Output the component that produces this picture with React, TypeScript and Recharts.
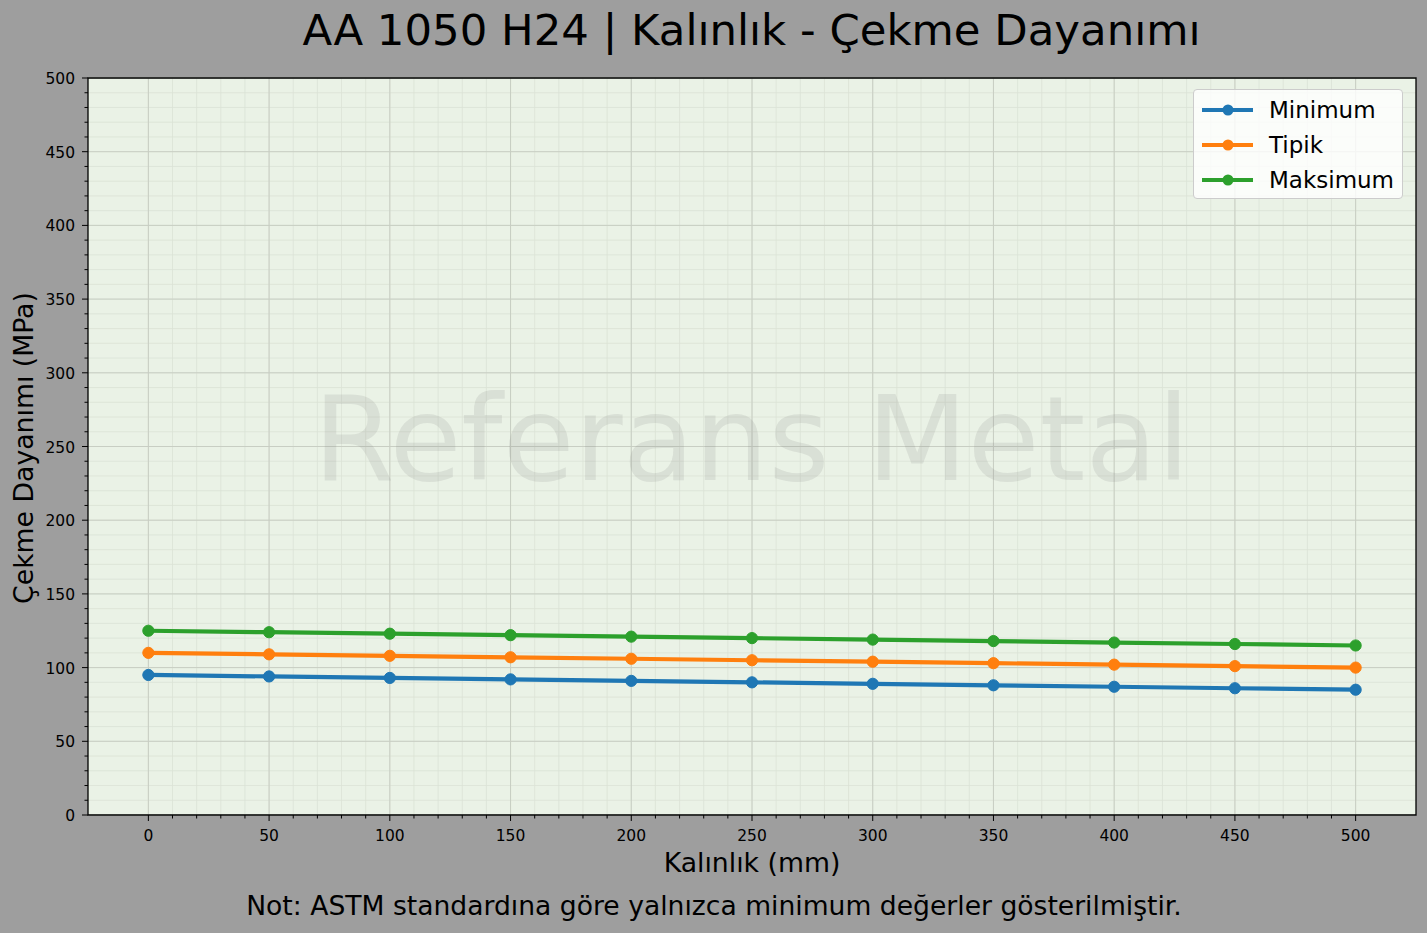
import React from 'react';
import {
  LineChart,
  Line,
  XAxis,
  YAxis,
  CartesianGrid,
  ReferenceArea,
  Legend,
} from 'recharts';

// thickness (mm) and tensile strength (MPa)
const THICKNESS = [0, 50, 100, 150, 200, 250, 300, 350, 400, 450, 500];
const MINIMUM = [95, 94, 93, 92, 91, 90, 89, 88, 87, 86, 85];
const TIPIK = [110, 109, 108, 107, 106, 105, 104, 103, 102, 101, 100];
const MAKSIMUM = [125, 124, 123, 122, 121, 120, 119, 118, 117, 116, 115];

const X_TICKS = [0, 50, 100, 150, 200, 250, 300, 350, 400, 450, 500];
const Y_TICKS = [0, 50, 100, 150, 200, 250, 300, 350, 400, 450, 500];
// minor ticks every 10
const X_MINOR = Array.from({ length: 51 }, (_, i) => i * 10);
const Y_MINOR = Array.from({ length: 51 }, (_, i) => i * 10);

const SERIES = [
  { key: 'min', name: 'Minimum', color: '#1f77b4', values: MINIMUM },
  { key: 'typ', name: 'Tipik', color: '#ff7f0e', values: TIPIK },
  { key: 'max', name: 'Maksimum', color: '#2ca02c', values: MAKSIMUM },
];

const data = THICKNESS.map((t, i) => {
  const row: Record<string, number> = { t };
  SERIES.forEach((s) => {
    row[s.key] = s.values[i];
  });
  return row;
});

const FONT = '"DejaVu Sans", sans-serif';
const W = 1427;
const H = 933;

const XTick = (props: any) => {
  const { x, y, payload } = props;
  const major = payload.value % 50 === 0;
  return (
    <g>
      <line x1={x} x2={x} y1={y} y2={y + (major ? 6 : 3.5)} stroke="#000" strokeWidth={1} />
      {major && (
        <text x={x} y={y + 26} textAnchor="middle" fontSize={15.5} fontFamily={FONT} fill="#000">
          {payload.value}
        </text>
      )}
    </g>
  );
};

const YTick = (props: any) => {
  const { x, y, payload } = props;
  const major = payload.value % 50 === 0;
  return (
    <g>
      <line x1={x - (major ? 6 : 3.5)} x2={x} y1={y} y2={y} stroke="#000" strokeWidth={1} />
      {major && (
        <text x={x - 13} y={y + 6} textAnchor="end" fontSize={15.5} fontFamily={FONT} fill="#000">
          {payload.value}
        </text>
      )}
    </g>
  );
};

// legend keeps the plotting order
const LegendBox = () => (
  <div
    style={{
      width: 210,
      height: 110,
      boxSizing: 'border-box',
      background: 'rgba(255,255,255,0.8)',
      border: '1px solid #cccccc',
      borderRadius: 4,
      fontFamily: FONT,
      fontSize: 23,
      color: '#000',
      paddingTop: 2,
    }}
  >
    {SERIES.map((s) => (
      <div key={s.key} style={{ display: 'flex', alignItems: 'center', height: 35 }}>
        <svg width={75} height={20} style={{ flex: 'none' }}>
          <line x1={8} x2={59} y1={10} y2={10} stroke={s.color} strokeWidth={4.2} />
          <circle cx={34} cy={10} r={5.5} fill={s.color} />
        </svg>
        <span>{s.name}</span>
      </div>
    ))}
  </div>
);

export default function App() {
  return (
    <div style={{ position: 'absolute', left: 0, top: 0, width: W, height: H, background: '#9e9e9e' }}>
      <LineChart width={W} height={H} data={data} margin={{ top: 78, right: 11, bottom: 0, left: 0 }}>
        <CartesianGrid
          stroke="#dbe2d6"
          strokeWidth={0.8}
          fill="#eaf2e6"
          fillOpacity={1}
          horizontalValues={Y_MINOR}
          verticalValues={X_MINOR}
        />
        <CartesianGrid
          stroke="#c8cec3"
          strokeWidth={1}
          fill="none"
          horizontalValues={Y_TICKS}
          verticalValues={X_TICKS}
        />
        <XAxis
          dataKey="t"
          type="number"
          domain={[-25, 525]}
          ticks={X_MINOR}
          interval={0}
          height={118}
          axisLine={false}
          tickLine={false}
          tickSize={0}
          tickMargin={0}
          tick={<XTick />}
          allowDataOverflow
        />
        <YAxis
          type="number"
          domain={[0, 500]}
          ticks={Y_MINOR}
          interval={0}
          width={88}
          axisLine={false}
          tickLine={false}
          tickSize={0}
          tickMargin={0}
          tick={<YTick />}
          allowDataOverflow
        />
        <ReferenceArea x1={-25} x2={525} y1={0} y2={500} fill="none" stroke="#000" strokeWidth={1.3} />
        {SERIES.map((s) => (
          <Line
            key={s.key}
            dataKey={s.key}
            name={s.name}
            stroke={s.color}
            strokeWidth={4.2}
            dot={{ r: 5.6, fill: s.color, stroke: s.color, strokeWidth: 1 }}
            activeDot={false}
            isAnimationActive={false}
          />
        ))}
        <Legend
          layout="vertical"
          align="center"
          verticalAlign="middle"
          content={<LegendBox />}
          wrapperStyle={{ left: 1193, top: 89, width: 210 }}
        />
      </LineChart>
      <svg
        width={W}
        height={H}
        style={{ position: 'absolute', left: 0, top: 0, pointerEvents: 'none' }}
        fontFamily={FONT}
      >
        <text x={751.5} y={480} textAnchor="middle" fontSize={117} fill="#808080" fillOpacity={0.16}>
          Referans Metal
        </text>
        <text x={751.5} y={45} textAnchor="middle" fontSize={43.4} fill="#000">
          AA 1050 H24 | Kalınlık - Çekme Dayanımı
        </text>
        <text x={752} y={872} textAnchor="middle" fontSize={26.7} fill="#000">
          Kalınlık (mm)
        </text>
        <text transform="translate(33,448) rotate(-90)" textAnchor="middle" fontSize={26.7} fill="#000">
          Çekme Dayanımı (MPa)
        </text>
        <text x={714} y={915} textAnchor="middle" fontSize={26.6} fill="#000">
          Not: ASTM standardına göre yalnızca minimum değerler gösterilmiştir.
        </text>
      </svg>
    </div>
  );
}
